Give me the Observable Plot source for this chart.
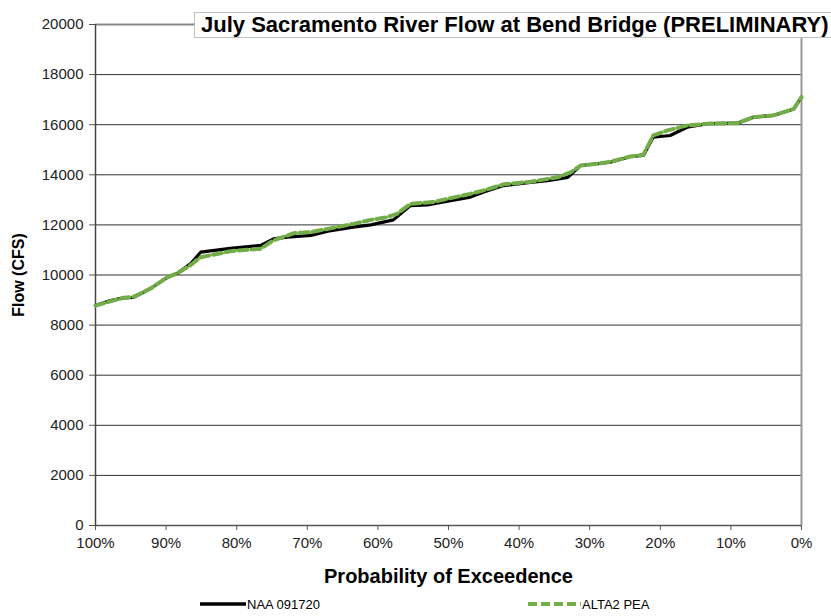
<!DOCTYPE html>
<html>
<head>
<meta charset="utf-8">
<script src="https://cdn.jsdelivr.net/npm/d3@7"></script>
<script src="https://cdn.jsdelivr.net/npm/@observablehq/plot@0.6"></script>
<style>
  html, body { margin: 0; padding: 0; background: #fff; }
  body { font-family: "Liberation Sans", Arial, sans-serif; }
  #wrap { position: relative; width: 831px; height: 616px; overflow: hidden; }
  #title {
    position: absolute; left: 194px; top: 12px; width: 650px; height: 26px;
    border: 1px solid #c0c0c0; background: #fff; box-sizing: border-box;
    font-weight: bold; font-size: 22px; line-height: 24px; padding-left: 6px;
    color: #000; white-space: nowrap;
  }
  #legend { position: absolute; left: 0; top: 592px; width: 831px; height: 24px; font-size: 13px; color: #000; }
  .lg { position: absolute; top: 4px; display: flex; align-items: center; }
  .lg svg { display: block; }
</style>
</head>
<body>
<div id="wrap">
  <div id="chart"></div>
  <div id="title">July Sacramento River Flow at Bend Bridge (PRELIMINARY)</div>
  <div id="legend">
    <div class="lg" style="left:200px"><svg width="47" height="16"><line x1="0" x2="46" y1="8" y2="8" stroke="#000" stroke-width="3.5"/></svg><span>NAA 091720</span></div>
    <div class="lg" style="left:528px"><svg width="54" height="16"><line x1="0" x2="53" y1="8" y2="8" stroke="#72ad47" stroke-width="4" stroke-dasharray="9,4"/></svg><span>ALTA2 PEA</span></div>
  </div>
</div>
<script>
// Series names
const seriesNames = ["NAA 091720", "ALTA2 PEA"];

// NAA 091720: probability of exceedence (%) and flow (CFS)
const naaProb = [100, 97.9, 96.0, 94.6, 92.2, 89.8, 88.4, 86.5, 85.1, 80.9, 76.6, 75.2, 74.8, 72.8, 69.5, 67.1, 63.5, 61.0, 57.8, 55.4, 53.0, 51.1, 49.7, 46.9, 45.0, 42.2, 38.4, 36.0, 33.1, 31.3, 28.9, 27.1, 24.2, 22.4, 21.0, 18.6, 16.2, 13.3, 9.1, 6.8, 4.0, 1.1, 0];
const naaFlow = [8780, 8980, 9090, 9110, 9460, 9910, 10070, 10460, 10910, 11060, 11180, 11380, 11440, 11510, 11580, 11750, 11910, 12000, 12200, 12770, 12800, 12900, 12970, 13110, 13310, 13570, 13700, 13770, 13900, 14370, 14440, 14500, 14730, 14770, 15500, 15570, 15900, 16040, 16060, 16300, 16370, 16630, 17100];

// ALTA2 PEA
const altProb = [100, 97.9, 96.0, 94.6, 92.2, 89.8, 88.4, 86.5, 85.1, 80.9, 76.6, 74.8, 71.9, 69.5, 67.1, 63.5, 61.0, 58.7, 57.3, 55.4, 52.2, 49.7, 46.9, 45.0, 42.2, 38.4, 34.6, 32.7, 31.3, 28.9, 27.1, 24.2, 22.4, 21.0, 19.0, 16.2, 13.3, 9.1, 6.8, 4.0, 1.1, 0];
const altFlow = [8780, 8950, 9090, 9130, 9460, 9910, 10070, 10400, 10710, 10950, 11050, 11380, 11670, 11710, 11840, 12040, 12200, 12310, 12440, 12840, 12910, 13070, 13240, 13380, 13620, 13720, 13900, 14100, 14370, 14440, 14520, 14730, 14800, 15570, 15770, 15970, 16040, 16060, 16300, 16370, 16630, 17100];

// Tick values
const xTicks = [100, 90, 80, 70, 60, 50, 40, 30, 20, 10, 0];
const yTicks = [0, 2000, 4000, 6000, 8000, 10000, 12000, 14000, 16000, 18000, 20000];

const naa = naaProb.map((p, i) => ({p, v: naaFlow[i], s: seriesNames[0]}));
const alt = altProb.map((p, i) => ({p, v: altFlow[i], s: seriesNames[1]}));

const chart = Plot.plot({
  width: 831,
  height: 592,
  marginLeft: 95,
  marginRight: 30,
  marginTop: 24,
  marginBottom: 67,
  style: {fontFamily: "'Liberation Sans', Arial, sans-serif", fontSize: "15px", color: "#222", background: "#fff"},
  x: {domain: [100, 0], label: null},
  y: {domain: [0, 20000], label: null},
  marks: [
    Plot.gridY(yTicks.filter(d => d > 0 && d < 20000), {stroke: "#333", strokeOpacity: 1, strokeWidth: 1}),
    Plot.ruleY([20000], {stroke: "#888", strokeWidth: 2}),
    Plot.ruleX([0], {stroke: "#999", strokeWidth: 2}),
    Plot.axisX({ticks: xTicks, tickFormat: d => d + "%", tickSize: 5, tickPadding: 7, stroke: "#555", label: null, fontSize: 15}),
    Plot.axisY({ticks: yTicks, tickFormat: d => String(d), tickSize: 6, tickPadding: 6, stroke: "#555", label: null, fontSize: 15}),
    Plot.ruleY([0], {stroke: "#555", strokeWidth: 1.5}),
    Plot.ruleX([100], {stroke: "#444", strokeWidth: 1.5}),
    Plot.line(naa, {x: "p", y: "v", stroke: "#000", strokeWidth: 3.2, strokeLinejoin: "round"}),
    Plot.line(alt, {x: "p", y: "v", stroke: "#72ad47", strokeWidth: 4, strokeDasharray: "9,4"}),
    Plot.text(["Flow (CFS)"], {frameAnchor: "left", textAnchor: "middle", dx: -77, rotate: -90, fontWeight: "bold", fontSize: 16, fill: "#000"}),
    Plot.text(["Probability of Exceedence"], {frameAnchor: "bottom", textAnchor: "middle", dy: 57, fontWeight: "bold", fontSize: 20, fill: "#000"})
  ]
});
document.getElementById("chart").appendChild(chart);
</script>
</body>
</html>
